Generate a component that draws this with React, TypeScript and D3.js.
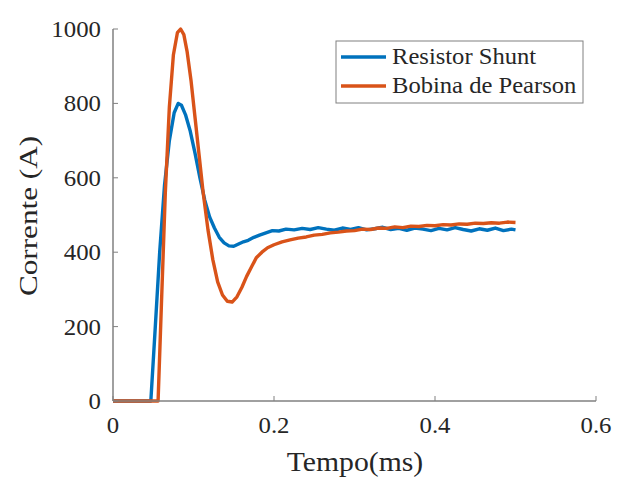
import React, { useRef, useEffect } from 'react';
import * as d3 from 'd3';

// time in ms, current in A
const shuntTime = [0, 0.047, 0.052, 0.058, 0.064, 0.07, 0.076, 0.081, 0.085, 0.09, 0.096, 0.102, 0.108, 0.114, 0.12, 0.126, 0.132, 0.138, 0.144, 0.15, 0.156, 0.162, 0.168, 0.175, 0.182, 0.19, 0.198, 0.206, 0.215, 0.225, 0.235, 0.245, 0.255, 0.265, 0.275, 0.285, 0.295, 0.305, 0.315, 0.325, 0.335, 0.345, 0.355, 0.365, 0.375, 0.385, 0.395, 0.405, 0.415, 0.425, 0.435, 0.445, 0.455, 0.465, 0.475, 0.485, 0.495, 0.5];
const shuntValue = [0, 0, 180, 400, 580, 700, 775, 800, 795, 770, 725, 665, 600, 540, 495, 465, 440, 425, 417, 416, 422, 428, 432, 440, 446, 452, 458, 457, 462, 460, 464, 461, 466, 462, 459, 465, 461, 466, 460, 463, 467, 461, 464, 459, 465, 462, 458, 464, 460, 466, 461, 457, 463, 459, 465, 458, 462, 460];

const pearsonTime = [0, 0.056, 0.06, 0.065, 0.07, 0.075, 0.08, 0.084, 0.088, 0.092, 0.097, 0.102, 0.107, 0.112, 0.118, 0.124, 0.13, 0.136, 0.142, 0.148, 0.154, 0.16, 0.166, 0.172, 0.178, 0.185, 0.192, 0.2, 0.21, 0.22, 0.23, 0.24, 0.25, 0.26, 0.27, 0.28, 0.29, 0.3, 0.31, 0.32, 0.33, 0.34, 0.35, 0.36, 0.37, 0.38, 0.39, 0.4, 0.41, 0.42, 0.43, 0.44, 0.45, 0.46, 0.47, 0.48, 0.49, 0.5];
const pearsonValue = [0, 0, 250, 560, 790, 930, 990, 1000, 985, 940, 860, 760, 660, 560, 460, 380, 320, 285, 268, 266, 280, 305, 335, 360, 385, 400, 412, 420, 428, 433, 438, 441, 446, 448, 452, 454, 457, 458, 462, 461, 465, 464, 468, 466, 470, 469, 472, 471, 474, 473, 476, 475, 478, 477, 479, 478, 481, 480];

const series = [
  { name: 'Resistor Shunt', color: '#0072BD', x: shuntTime, y: shuntValue },
  { name: 'Bobina de Pearson', color: '#D95319', x: pearsonTime, y: pearsonValue },
];

const xTicks = [0, 0.2, 0.4, 0.6];
const yTicks = [0, 200, 400, 600, 800, 1000];

export default function App() {
  const svgRef = useRef<SVGSVGElement | null>(null);

  useEffect(() => {
    if (!svgRef.current) return;
    const svg = d3.select(svgRef.current);
    svg.selectAll('*').remove();

    const font = "'Liberation Serif', 'Times New Roman', Times, serif";
    const textColor = '#262626';
    const axisColor = '#808080';

    // text stretched a bit horizontally, like the source image
    const label = (parent: any, tx: number, ty: number, str: string, size: number,
      anchor = 'start', sx = 1.08, rotate = 0) => {
      parent.append('text')
        .attr('transform', `translate(${tx},${ty}) rotate(${rotate}) scale(${sx},1)`)
        .attr('text-anchor', anchor)
        .style('font-family', font)
        .attr('font-size', size)
        .attr('fill', textColor)
        .text(str);
    };

    const x = d3.scaleLinear().domain([0, 0.6]).range([113, 596]);
    const y = d3.scaleLinear().domain([0, 1000]).range([401, 29]);

    const line = d3.line<[number, number]>()
      .x(d => x(d[0]))
      .y(d => y(d[1]));

    series.forEach(s => {
      const pts = s.x.map((t, i) => [t, s.y[i]] as [number, number]);
      svg.append('path')
        .datum(pts)
        .attr('d', line)
        .attr('fill', 'none')
        .attr('stroke', s.color)
        .attr('stroke-width', 3.4)
        .attr('stroke-linejoin', 'round');
    });

    // axes (left + bottom only, ticks inward)
    svg.append('line')
      .attr('x1', x(0)).attr('x2', x(0.6))
      .attr('y1', y(0)).attr('y2', y(0))
      .attr('stroke', axisColor).attr('stroke-width', 1.5);
    svg.append('line')
      .attr('x1', x(0)).attr('x2', x(0))
      .attr('y1', y(0)).attr('y2', y(1000))
      .attr('stroke', axisColor).attr('stroke-width', 1.5);

    xTicks.forEach(t => {
      svg.append('line')
        .attr('x1', x(t)).attr('x2', x(t))
        .attr('y1', y(0)).attr('y2', y(0) - 5)
        .attr('stroke', axisColor);
      label(svg, x(t), 433, String(t), 23, 'middle');
    });

    yTicks.forEach(v => {
      svg.append('line')
        .attr('x1', x(0)).attr('x2', x(0) + 5)
        .attr('y1', y(v)).attr('y2', y(v))
        .attr('stroke', axisColor);
      label(svg, 101, y(v) + 8, String(v), 23, 'end');
    });

    label(svg, 355, 471, 'Tempo(ms)', 27, 'middle', 1.1);
    label(svg, 37, 216, 'Corrente (A)', 26, 'middle', 1.2, -90);

    // legend
    const legend = svg.append('g').attr('transform', 'translate(336, 41)');
    legend.append('rect')
      .attr('width', 247).attr('height', 62)
      .attr('fill', 'white')
      .attr('stroke', axisColor).attr('stroke-width', 1);
    series.forEach((s, i) => {
      const cy = 16 + i * 29;
      legend.append('line')
        .attr('x1', 5).attr('x2', 50)
        .attr('y1', cy).attr('y2', cy)
        .attr('stroke', s.color).attr('stroke-width', 3.4);
      label(legend, 56, cy + 7, s.name, 23, 'start', 1.07);
    });
  }, []);

  return (
    <svg ref={svgRef} width={618} height={480}
      style={{ position: 'absolute', left: 0, top: 0, background: 'white' }} />
  );
}
